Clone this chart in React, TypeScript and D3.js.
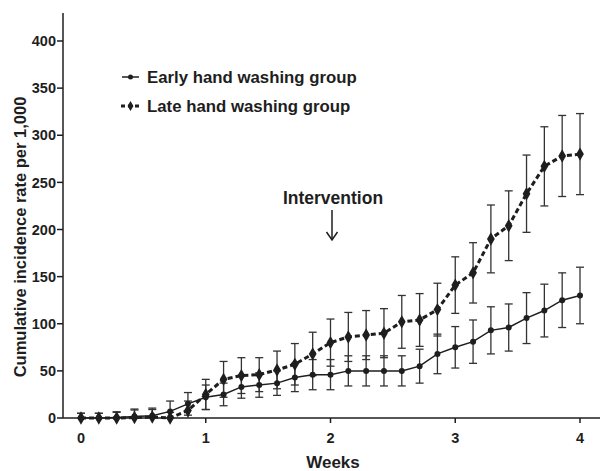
import React, { useEffect } from 'react';
import * as d3 from 'd3';

// days 0..28, plotted in weeks
const days = d3.range(0, 29);
const earlyRate = [0, 0, 0.6, 1.5, 2.5, 7, 15, 22, 25, 33, 35, 37, 43, 46, 46, 50, 50, 50, 50, 55, 68, 75, 81, 93, 96, 106, 114, 125, 130];
const earlyErr = [5, 5, 6, 8, 8, 11, 12, 13, 12, 12, 13, 13, 15, 16, 16, 16, 16, 16, 16, 18, 21, 22, 23, 25, 25, 27, 28, 29, 30];
const lateRate = [0, 0, 0, 0.5, 1, 0, 8, 25, 41, 45, 46, 51, 57, 68, 80, 86, 88, 90, 102, 104, 115, 141, 154, 190, 204, 238, 267, 278, 280];
const lateErr = [5, 5, 6, 8, 8, 6, 10, 16, 19, 19, 18, 20, 22, 23, 25, 26, 26, 26, 28, 28, 28, 30, 32, 36, 37, 41, 42, 43, 43];
const xTicks = [0, 1, 2, 3, 4];
const yTicks = [0, 50, 100, 150, 200, 250, 300, 350, 400];

const W = 609;
const H = 471;
const FONT = '"Liberation Sans", Arial, sans-serif';
const INK = '#1e1e1e';

export default function App() {
  useEffect(() => {
    document.body.style.margin = '0';
  }, []);

  const x = d3.scaleLinear().domain([0, 4]).range([81, 580]);
  const y = d3.scaleLinear().domain([0, 400]).range([418, 41]);
  const x0 = 63;
  const y0 = 418;

  const early = days.map((d, i) => ({ w: d / 7, v: earlyRate[i], e: earlyErr[i] }));
  const late = days.map((d, i) => ({ w: d / 7, v: lateRate[i], e: lateErr[i] }));

  const line = d3.line<{ w: number; v: number }>().x(d => x(d.w)).y(d => y(d.v));
  const diamond = d3.symbol().type(d3.symbolDiamond).size(52)() || '';

  const errBars = (pts: { w: number; v: number; e: number }[], key: string) =>
    pts.map((p, i) => {
      const cx = x(p.w);
      const t = y(p.v + p.e);
      const b = y(Math.max(0, p.v - p.e));
      return (
        <g key={key + i} stroke="#333" strokeWidth={1.3}>
          <line x1={cx} x2={cx} y1={t} y2={b} />
          <line x1={cx - 4} x2={cx + 4} y1={t} y2={t} />
          {p.v - p.e > 0 && <line x1={cx - 4} x2={cx + 4} y1={b} y2={b} />}
        </g>
      );
    });

  return (
    <svg width={W} height={H} style={{ display: 'block', background: '#fff' }}>
      {/* axes */}
      <line x1={x0} x2={x0} y1={13} y2={y0} stroke={INK} strokeWidth={1.5} />
      <line x1={x0} x2={600} y1={y0} y2={y0} stroke={INK} strokeWidth={1.5} />
      {yTicks.map(t => (
        <g key={'y' + t}>
          <line x1={x0 - 6} x2={x0} y1={y(t)} y2={y(t)} stroke={INK} strokeWidth={1.5} />
          <text x={x0 - 7} y={y(t)} dy="0.36em" textAnchor="end" fontFamily={FONT} fontWeight="bold" fontSize={14.5} fill={INK}>
            {t}
          </text>
        </g>
      ))}
      {xTicks.map(t => (
        <g key={'x' + t}>
          <line x1={x(t)} x2={x(t)} y1={y0} y2={y0 + 5} stroke={INK} strokeWidth={1.5} />
          <text x={x(t)} y={y0 + 25} textAnchor="middle" fontFamily={FONT} fontWeight="bold" fontSize={14.5} fill={INK}>
            {t}
          </text>
        </g>
      ))}
      <text x={333} y={468} textAnchor="middle" fontFamily={FONT} fontWeight="bold" fontSize={17} fill={INK}>
        Weeks
      </text>
      <text
        transform="translate(26,237) rotate(-90)"
        textAnchor="middle"
        fontFamily={FONT}
        fontWeight="bold"
        fontSize={16.5}
        fill={INK}
      >
        Cumulative incidence rate per 1,000
      </text>

      {/* error bars */}
      {errBars(late, 'le')}
      {errBars(early, 'ee')}

      {/* lines */}
      <path d={line(early) || ''} fill="none" stroke={INK} strokeWidth={1.5} />
      <path d={line(late) || ''} fill="none" stroke={INK} strokeWidth={3} strokeDasharray="5,3" />

      {/* markers */}
      {early.map((p, i) => (
        <circle key={'em' + i} cx={x(p.w)} cy={y(p.v)} r={3} fill={INK} />
      ))}
      {late.map((p, i) => (
        <path key={'lm' + i} d={diamond} transform={`translate(${x(p.w)},${y(p.v)})`} fill={INK} />
      ))}

      {/* legend */}
      <g>
        <line x1={122} x2={139} y1={77} y2={77} stroke={INK} strokeWidth={1.5} />
        <circle cx={130.5} cy={77} r={2.5} fill={INK} />
        <text x={147} y={77} dy="0.36em" fontFamily={FONT} fontWeight="bold" fontSize={16.8} fill={INK}>
          Early hand washing group
        </text>
        <line x1={121} x2={140} y1={106} y2={106} stroke={INK} strokeWidth={3} strokeDasharray="4,3" />
        <path d={d3.symbol().type(d3.symbolDiamond).size(30)() || ''} transform="translate(130.5,106)" fill={INK} />
        <text x={147} y={106} dy="0.36em" fontFamily={FONT} fontWeight="bold" fontSize={16.8} fill={INK}>
          Late hand washing group
        </text>
      </g>

      {/* intervention annotation */}
      <text x={333} y={198} dy="0.36em" textAnchor="middle" fontFamily={FONT} fontWeight="bold" fontSize={17.5} fill={INK}>
        Intervention
      </text>
      <g stroke={INK} strokeWidth={1.5} fill="none">
        <line x1={332} x2={332} y1={210} y2={240} />
        <polyline points="326.5,232 332,240 337.5,232" />
      </g>
    </svg>
  );
}
